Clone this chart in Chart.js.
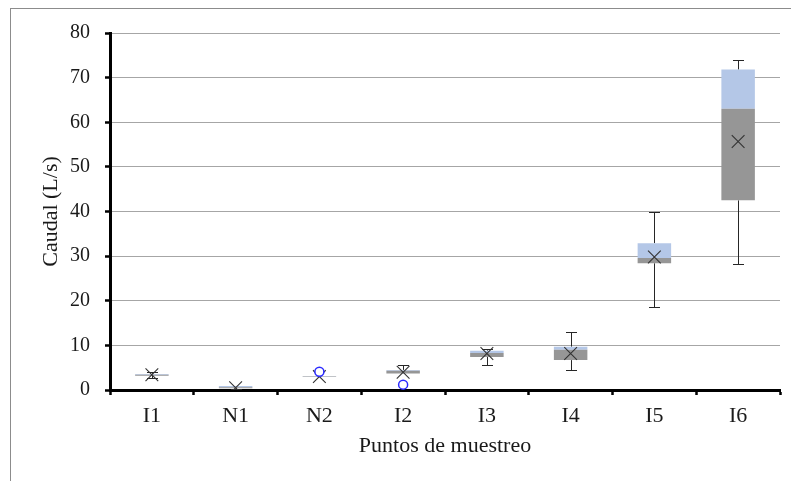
<!DOCTYPE html>
<html>
<head>
<meta charset="utf-8">
<script src="https://cdn.jsdelivr.net/npm/chart.js@4"></script>
<style>
  html, body { margin: 0; padding: 0; background: #fff; overflow: hidden; }
  #wrap { position: relative; width: 791px; height: 481px; }
  #frame { position: absolute; left: 10px; top: 8px; width: 1000px; height: 1000px; border: 1px solid #8c8c8c; }
  canvas { position: absolute; left: 0; top: 0; }
</style>
</head>
<body>
<div id="wrap">
  <div id="frame"></div>
  <canvas id="chart" width="791" height="481"></canvas>
</div>
<script>
// puntos de muestreo
const categories = ['I1', 'N1', 'N2', 'I2', 'I3', 'I4', 'I5', 'I6'];

// cuartiles (L/s)
const q1     = [3.2, 0.4, 2.9, 3.7, 7.4, 6.7, 28.4, 42.5];
const median = [3.4, 0.6, 3.0, 4.3, 8.3, 9.0, 29.6, 63.0];
const q3     = [3.6, 0.9, 3.1, 4.5, 8.8, 9.7, 32.9, 71.8];

// bigotes
const whiskerMin = [2.8, 0.3, 2.9, 3.7, 5.6, 4.5, 18.7, 28.3];
const whiskerMax = [4.0, 1.0, 3.1, 5.5, 9.1, 12.9, 40.0, 73.9];

// promedio (X) y valores atípicos (círculos)
const means = [3.4, 0.5, 3.0, 4.0, 8.2, 8.2, 29.8, 55.7];
const outlierCats = ['N2', 'I2'];
const outlierValues = [4.1, 1.2];

const yTicks = { min: 0, max: 80, step: 10 };

const whiskers = {
  id: 'whiskers',
  beforeDatasetsDraw(chart) {
    const { ctx, scales: { x, y } } = chart;
    ctx.save();
    ctx.strokeStyle = '#262626';
    ctx.lineWidth = 1;
    const cap = 5.5;
    categories.forEach((c, i) => {
      const px = Math.round(x.getPixelForValue(i)) + 0.5;
      const segs = [[q3[i], whiskerMax[i]], [q1[i], whiskerMin[i]]];
      segs.forEach(([from, to]) => {
        if (Math.abs(from - to) < 0.05) return;
        const y0 = y.getPixelForValue(from);
        const y1 = Math.round(y.getPixelForValue(to)) + 0.5;
        ctx.beginPath();
        ctx.moveTo(px, y0);
        ctx.lineTo(px, y1);
        ctx.moveTo(px - cap, y1);
        ctx.lineTo(px + cap, y1);
        ctx.stroke();
      });
    });
    ctx.restore();
  }
};

const serif = 'Liberation Serif, Times New Roman, serif';

new Chart(document.getElementById('chart'), {
  type: 'bar',
  data: {
    labels: categories,
    datasets: [
      {
        type: 'scatter',
        label: 'Promedio',
        data: means.map((v, i) => ({ x: categories[i], y: v })),
        pointStyle: 'crossRot',
        radius: 9,
        borderColor: '#333333',
        borderWidth: 1.1,
        showLine: false,
        order: 1
      },
      {
        type: 'scatter',
        label: 'Atípicos',
        data: outlierValues.map((v, i) => ({ x: outlierCats[i], y: v })),
        pointStyle: 'circle',
        radius: 4.5,
        borderColor: '#2b2bff',
        backgroundColor: '#ffffff',
        borderWidth: 1.5,
        showLine: false,
        order: 0
      },
      {
        label: 'Q1-Mediana',
        data: categories.map((c, i) => [q1[i], median[i]]),
        backgroundColor: '#969696',
        borderWidth: 0,
        grouped: false,
        barPercentage: 0.4,
        categoryPercentage: 1,
        order: 3
      },
      {
        label: 'Mediana-Q3',
        data: categories.map((c, i) => [median[i], q3[i]]),
        backgroundColor: '#b4c7e7',
        borderWidth: 0,
        grouped: false,
        barPercentage: 0.4,
        categoryPercentage: 1,
        order: 3
      }
    ]
  },
  options: {
    responsive: false,
    animation: false,
    devicePixelRatio: 1,
    layout: { padding: { left: 10, top: 33, right: 11, bottom: 0 } },
    plugins: {
      legend: { display: false },
      tooltip: { enabled: false }
    },
    scales: {
      x: {
        type: 'category',
        offset: true,
        afterFit(scale) { scale.height = 91; },
        border: { color: '#000', width: 3 },
        grid: {
          offset: true,
          drawOnChartArea: false,
          drawTicks: true,
          tickLength: 5,
          tickColor: '#000',
          tickWidth: 2.5
        },
        ticks: {
          color: '#1a1a1a',
          padding: 8,
          font: { family: serif, size: 22 }
        },
        title: {
          display: true,
          text: 'Puntos de muestreo',
          color: '#1a1a1a',
          padding: { top: 0, bottom: 22 },
          font: { family: serif, size: 22 }
        }
      },
      y: {
        min: yTicks.min,
        max: yTicks.max,
        afterFit(scale) { scale.width = 100; },
        border: { color: '#000', width: 3 },
        grid: {
          color: '#a6a6a6',
          lineWidth: 1,
          tickLength: 5,
          tickColor: '#000',
          tickWidth: 2.5
        },
        ticks: {
          stepSize: yTicks.step,
          color: '#1a1a1a',
          padding: 15,
          font: { family: serif, size: 20 }
        },
        title: {
          display: true,
          text: 'Caudal (L/s)',
          color: '#1a1a1a',
          padding: { top: 28, bottom: 0 },
          font: { family: serif, size: 22 }
        }
      }
    }
  },
  plugins: [whiskers]
});
</script>
</body>
</html>
